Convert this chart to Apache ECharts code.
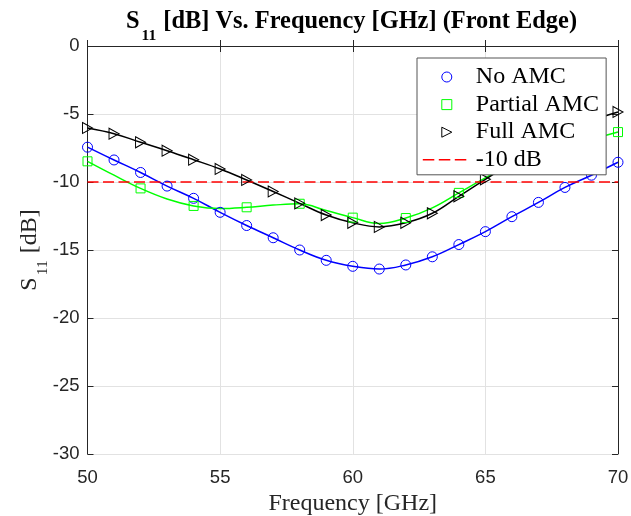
<!DOCTYPE html>
<html>
<head>
<meta charset="utf-8">
<script src="https://cdn.jsdelivr.net/npm/echarts@6/dist/echarts.min.js"></script>
<style>
  html, body { margin: 0; padding: 0; background: #fff; }
  #chart { width: 631px; height: 516px; }
</style>
</head>
<body>
<div id="chart"></div>
<script>
// ---- Data ----
const freqGHz = [50, 51, 52, 53, 54, 55, 56, 57, 58, 59, 60, 61, 62, 63, 64, 65, 66, 67, 68, 69, 70];
const noAMC = [-7.44, -8.38, -9.3, -10.3, -11.2, -12.23, -13.2, -14.1, -15.0, -15.76, -16.2, -16.4, -16.1, -15.5, -14.6, -13.65, -12.55, -11.5, -10.4, -9.5, -8.55];
const partialAMC = [-8.48, -9.5, -10.47, -11.25, -11.76, -11.95, -11.86, -11.7, -11.6, -12.1, -12.62, -13.05, -12.65, -11.9, -10.8, -9.7, -8.65, -7.9, -7.3, -6.85, -6.33];
const fullAMC = [-6.03, -6.45, -7.08, -7.7, -8.36, -9.04, -9.85, -10.7, -11.57, -12.43, -13.0, -13.3, -13.0, -12.3, -11.05, -9.8, -8.6, -7.45, -6.4, -5.5, -4.85];
const partialMarkerStep = 2;      // Partial AMC markers every 2 GHz
const thresholdDb = -10;
const thresholdRange = [50, 70];
const seriesNames = ['No AMC', 'Partial AMC', 'Full AMC', '-10 dB'];
const xRange = [50, 70], xStep = 5;
const yRange = [-30, 0], yStep = 5;

// ---- Styling ----
const SERIF = 'Liberation Serif';
const SANS = 'Liberation Sans';
const TXT = '#262626';
const GRIDC = '#e2e2e2';
const triPath = 'path://M0,0L10,5L0,10Z';
const sqPath = 'path://M0,0L10,0L10,10L0,10Z';

const pairs = (ys) => freqGHz.map((f, i) => [f, ys[i]]);

const partialData = freqGHz.map((f, i) => {
  const item = { value: [f, partialAMC[i]] };
  if ((f - freqGHz[0]) % partialMarkerStep !== 0) item.symbol = 'none';
  return item;
});

const chart = echarts.init(document.getElementById('chart'), null, { renderer: 'canvas' });

const commonAxis = {
  axisLine: { show: true, lineStyle: { color: TXT, width: 1 } },
  axisTick: { show: true, inside: true, length: 6, lineStyle: { color: TXT, width: 1 } },
};

const option = {
  animation: false,
  backgroundColor: '#fff',
  title: {
    text: '{b|S}{s|11}{b| [dB] Vs. Frequency [GHz] (Front Edge)}',
    left: 126,
    top: 10,
    padding: 0,
    textStyle: {
      rich: {
        b: { fontFamily: SERIF, fontSize: 24.4, fontWeight: 'bold', color: '#000', lineHeight: 26, verticalAlign: 'top' },
        s: { fontFamily: SERIF, fontSize: 15.5, fontWeight: 'bold', color: '#000', lineHeight: 16, padding: [18, 1, 0, 2], verticalAlign: 'top' }
      }
    }
  },
  grid: { left: 87.5, right: 13, top: 46, bottom: 62, containLabel: false, outerBoundsMode: 'none' },
  legend: {
    orient: 'vertical',
    left: 417,
    top: 58,
    z: 20,
    padding: [7, 7, 3, 5],
    itemGap: 3.6,
    itemWidth: 48,
    itemHeight: 10,
    backgroundColor: '#fff',
    borderColor: '#555',
    borderWidth: 1,
    selectedMode: false,
    textStyle: { fontFamily: SERIF, fontSize: 24, color: '#000' },
    data: [
      { name: seriesNames[0], icon: 'circle', itemStyle: { color: 'rgba(0,0,0,0)', borderColor: '#0000ff', borderWidth: 1 } },
      { name: seriesNames[1], icon: sqPath, itemStyle: { color: 'rgba(0,0,0,0)', borderColor: '#00ff00', borderWidth: 1 } },
      { name: seriesNames[2], icon: triPath, itemStyle: { color: 'rgba(0,0,0,0)', borderColor: '#000', borderWidth: 1 } },
      { name: seriesNames[3], itemStyle: { opacity: 0 }, lineStyle: { color: '#ff0000', width: 1.6, type: [11.5, 4.5, 11.5, 4.5, 11.5, 4.5, 3, 10] } }
    ]
  },
  xAxis: [
    Object.assign({
      type: 'value', min: xRange[0], max: xRange[1], interval: xStep, position: 'bottom',
      name: 'Frequency [GHz]', nameLocation: 'middle', nameGap: 27,
      nameTextStyle: { fontFamily: SERIF, fontSize: 24, color: TXT },
      axisLabel: { show: true, fontFamily: SANS, fontSize: 18.5, color: TXT, margin: 14 },
      splitLine: { show: true, lineStyle: { color: GRIDC, width: 1 } }
    }, commonAxis),
    Object.assign({
      type: 'value', min: xRange[0], max: xRange[1], interval: xStep, position: 'top',
      axisLabel: { show: false }, splitLine: { show: false }
    }, commonAxis)
  ],
  yAxis: [
    Object.assign({
      type: 'value', min: yRange[0], max: yRange[1], interval: yStep, position: 'left',
      name: '{a|S}{s|11}{a| [dB]}', nameLocation: 'middle', nameGap: 44, nameMoveOverlap: false,
      nameTextStyle: {
        rich: {
          a: { fontFamily: SERIF, fontSize: 24, color: TXT, lineHeight: 26, verticalAlign: 'top' },
          s: { fontFamily: SERIF, fontSize: 15.5, color: TXT, lineHeight: 16, padding: [17, 1, 0, 2], verticalAlign: 'top' }
        }
      },
      axisLabel: { show: true, fontFamily: SANS, fontSize: 18.5, color: TXT, margin: 8, padding: [5, 0, 0, 0] },
      splitLine: { show: true, lineStyle: { color: GRIDC, width: 1 } }
    }, commonAxis),
    Object.assign({
      type: 'value', min: yRange[0], max: yRange[1], interval: yStep, position: 'right',
      axisLabel: { show: false }, splitLine: { show: false }
    }, commonAxis)
  ],
  series: [
    {
      name: seriesNames[0], type: 'line', data: pairs(noAMC), smooth: 0.4,
      symbol: 'circle', symbolSize: 10, showAllSymbol: true,
      color: '#0000ff',
      lineStyle: { color: '#0000ff', width: 1.5 },
      itemStyle: { color: 'rgba(0,0,0,0)', borderColor: '#0000ff', borderWidth: 1 },
      z: 2
    },
    {
      name: seriesNames[1], type: 'line', data: partialData, smooth: 0.4,
      symbol: 'rect', symbolSize: 9, showAllSymbol: true,
      color: '#00ff00',
      lineStyle: { color: '#00ff00', width: 1.5 },
      itemStyle: { color: 'rgba(0,0,0,0)', borderColor: '#00ff00', borderWidth: 1 },
      z: 2
    },
    {
      name: seriesNames[2], type: 'line', data: pairs(fullAMC), smooth: 0.4,
      symbol: triPath, symbolSize: [10, 11], showAllSymbol: true,
      color: '#000',
      lineStyle: { color: '#000', width: 1.5 },
      itemStyle: { color: 'rgba(0,0,0,0)', borderColor: '#000', borderWidth: 1 },
      z: 2
    },
    {
      name: seriesNames[3], type: 'line',
      data: thresholdRange.map(x => [x, thresholdDb]),
      symbol: 'none', color: '#ff0000',
      lineStyle: { color: '#ff0000', width: 1.6, type: [11, 4.5] },
      z: 2
    }
  ]
};

chart.setOption(option);
</script>
</body>
</html>
